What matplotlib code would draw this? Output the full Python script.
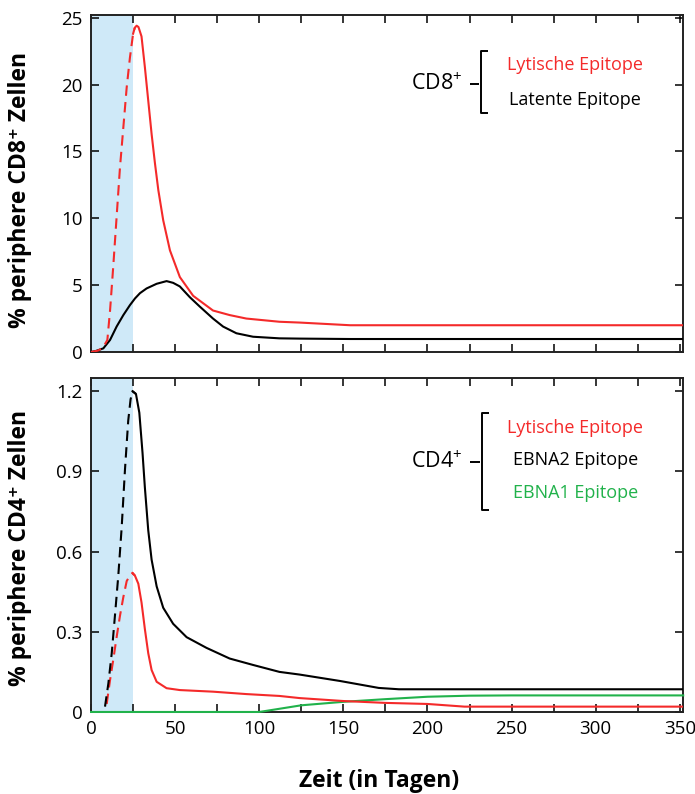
import matplotlib
matplotlib.use("Agg")
import matplotlib.pyplot as plt  # noqa: E402
from matplotlib.ticker import MultipleLocator  # noqa: E402
import numpy as np  # noqa: E402

plt.rcParams["font.family"] = ["Open Sans", "DejaVu Sans"]
plt.rcParams["mathtext.default"] = "regular"

RED = "#f42a2a"
GREEN = "#21b24b"
SHADE = "#cfe9f8"
ACUTE_END = 25  # end of shaded acute phase (days)

# --- top panel: CD8+ ---
cd8_lyt_days = [0, 4, 7, 9.7, 11.3, 13.2, 15.2, 17.2, 19.2, 21.2, 23.1, 25, 26, 27.1, 28.2, 30, 32, 34, 36,
                38, 40, 42.9, 46.9, 52.8, 60.7, 72.5, 82.4, 92.3, 112, 124, 142, 154, 200, 250, 300, 352]
cd8_lyt_vals = [0.0, 0.1, 0.3, 0.9, 3.1, 6.4, 10.1, 13.8, 16.8, 19.8, 22.0, 23.8, 24.25, 24.4, 24.3, 23.6, 21.3,
                18.8, 16.3, 14.1, 12.1, 9.85, 7.6, 5.6, 4.2, 3.1, 2.76, 2.5, 2.26, 2.2, 2.08, 2.0, 2.0, 2.0, 2.0, 2.0]

cd8_lat_days = [0, 3, 7.3, 11.3, 15.2, 19.2, 23.1, 26.1, 29.1, 33, 39, 44.9, 48.8, 52.8, 58.7, 64.6,
                72.5, 78.5, 86.4, 96.3, 112, 124, 154, 200, 250, 300, 352]
cd8_lat_vals = [0.0, 0.08, 0.27, 0.9, 1.9, 2.76, 3.5, 4.0, 4.4, 4.75, 5.1, 5.3, 5.17, 4.9, 4.1, 3.4,
                2.5, 1.9, 1.4, 1.14, 1.02, 1.0, 0.97, 0.97, 0.97, 0.97, 0.97]

# --- bottom panel: CD4+ ---
cd4_ebna2_days = [8.3, 10.3, 12.3, 14.2, 16.2, 18.2, 20.2, 22.1, 23.5, 24.7, 26.7, 28.7, 30.6, 32, 34, 36,
                  39, 42.9, 48.8, 56.8, 68.6, 82.4, 96.3, 112, 124, 148, 171, 183, 250, 300, 352]
cd4_ebna2_vals = [0.02, 0.107, 0.22, 0.36, 0.51, 0.69, 0.91, 1.09, 1.17, 1.2, 1.19, 1.12, 0.97, 0.84, 0.68, 0.57,
                  0.47, 0.39, 0.33, 0.28, 0.24, 0.20, 0.176, 0.15, 0.14, 0.116, 0.09, 0.085, 0.085, 0.085, 0.085]

cd4_lyt_days = [9.3, 11.3, 13.2, 15.2, 17.2, 19.2, 21.2, 23.1, 24.7, 26.1, 28.1, 30, 32, 34, 36, 39,
                44.9, 52.8, 72.5, 92.3, 112, 124, 150, 175, 200, 222, 250, 300, 352]
cd4_lyt_vals = [0.03, 0.12, 0.195, 0.28, 0.36, 0.43, 0.49, 0.51, 0.52, 0.51, 0.48, 0.41, 0.31, 0.22, 0.157, 0.113,
                0.089, 0.082, 0.076, 0.067, 0.06, 0.052, 0.041, 0.034, 0.03, 0.02, 0.02, 0.02, 0.02]

cd4_ebna1_days = [0, 50, 100, 110, 125, 150, 175, 200, 225, 250, 300, 352]
cd4_ebna1_vals = [0.0, 0.0, 0.0, 0.01, 0.025, 0.038, 0.048, 0.057, 0.061, 0.062, 0.062, 0.062]


def draw_curve(ax, days, vals, color, dashed_until=None, **extra):
    d = np.asarray(days, dtype=float)
    v = np.asarray(vals, dtype=float)
    if dashed_until is None:
        ax.plot(d, v, color=color, lw=1.5, zorder=3, **extra)
        return
    k = int((d <= dashed_until).sum())
    ax.plot(d[:k + 1], v[:k + 1], color=color, lw=1.5, dashes=(5, 3), zorder=3)
    ax.plot(d[k - 1:], v[k - 1:], color=color, lw=1.5, zorder=3)


def style_axes(ax):
    ax.set_xlim(0, 352)
    ax.xaxis.set_major_locator(MultipleLocator(50))
    ax.xaxis.set_minor_locator(MultipleLocator(25))
    ax.tick_params(which="both", direction="in", top=True, right=True, length=5.5, width=1.1,
                   labelsize=13.5, pad=6)
    for s in ax.spines.values():
        s.set_linewidth(1.4)
        s.set_color("#222222")
    ax.axvspan(0, ACUTE_END, color=SHADE, lw=0, zorder=0)


def bracket(ax, cx_label, y_label, label, x_dash0, x_dash1, x_br, y_top, y_bot, x_serif,
            texts, text_x, text_ys, colors):
    tr = ax.transAxes
    ax.text(cx_label, y_label, label, transform=tr, ha="center", va="center", fontsize=15.5)
    kw = dict(transform=tr, color="black", lw=1.4, clip_on=False, solid_capstyle="butt")
    ax.plot([x_dash0, x_dash1], [y_label, y_label], **kw)
    ax.plot([x_serif, x_br, x_br, x_serif], [y_top, y_top, y_bot, y_bot], **kw)
    for t, yy, c in zip(texts, text_ys, colors):
        ax.text(text_x, yy, t, transform=tr, ha="center", va="center", fontsize=13, color=c)


fig = plt.figure(figsize=(6.95, 7.94), dpi=100)
ax1 = fig.add_axes([0.131, 0.5567, 0.852, 0.4244])
ax2 = fig.add_axes([0.131, 0.1033, 0.852, 0.4207])

# top
style_axes(ax1)
ax1.set_ylim(0, 25.2)
ax1.yaxis.set_major_locator(MultipleLocator(5))
ax1.tick_params(labelbottom=False)
draw_curve(ax1, cd8_lat_days, cd8_lat_vals, "black")
draw_curve(ax1, cd8_lyt_days, cd8_lyt_vals, RED, dashed_until=ACUTE_END)
ax1.set_ylabel("% periphere CD8⁺ Zellen", fontsize=16.5, fontweight="bold")
ax1.yaxis.set_label_coords(-0.1, 0.48)
bracket(ax1, 0.584, 0.795, "CD8$^{+}$", 0.640, 0.655, 0.659, 0.893, 0.709, 0.671,
        ["Lytische Epitope", "Latente Epitope"], 0.818, [0.852, 0.748], [RED, "black"])

# bottom
style_axes(ax2)
ax2.set_ylim(0, 1.25)
ax2.set_yticks([0, 0.3, 0.6, 0.9, 1.2])
ax2.set_yticklabels(["0", "0.3", "0.6", "0.9", "1.2"])
draw_curve(ax2, cd4_ebna1_days, cd4_ebna1_vals, GREEN, clip_on=False)
draw_curve(ax2, cd4_lyt_days, cd4_lyt_vals, RED, dashed_until=ACUTE_END)
draw_curve(ax2, cd4_ebna2_days, cd4_ebna2_vals, "black", dashed_until=ACUTE_END)
ax2.set_ylabel("% periphere CD4⁺ Zellen", fontsize=16.5, fontweight="bold")
ax2.yaxis.set_label_coords(-0.1, 0.49)
ax2.set_xlabel("Zeit (in Tagen)", fontsize=16.5, fontweight="bold")
ax2.xaxis.set_label_coords(0.487, -0.17)
bracket(ax2, 0.584, 0.748, "CD4$^{+}$", 0.640, 0.657, 0.660, 0.895, 0.605, 0.672,
        ["Lytische Epitope", "EBNA2 Epitope", "EBNA1 Epitope"], 0.818,
        [0.850, 0.754, 0.656], [RED, "black", GREEN])

fig.savefig("out.png", dpi=100)
